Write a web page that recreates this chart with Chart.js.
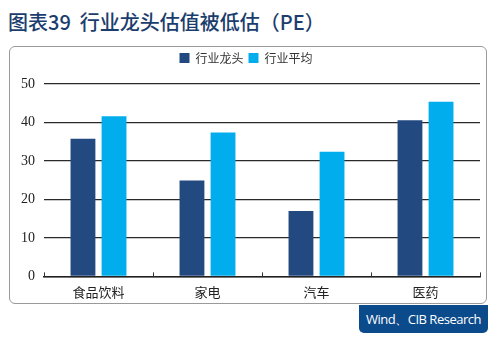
<!DOCTYPE html>
<html>
<head>
<meta charset="utf-8">
<script src="https://cdn.jsdelivr.net/npm/chart.js@4/dist/chart.umd.min.js"></script>
<style>
  html, body { margin: 0; padding: 0; background: #fff; }
  body { width: 499px; height: 341px; position: relative; overflow: hidden; }
  .title {
    position: absolute; left: 8px; top: 7px;
    font-family: 'Noto Sans CJK SC', sans-serif; font-size: 20px; font-weight: 500;
    color: #1b3d6d; white-space: nowrap;
  }
  .box {
    position: absolute; left: 9px; top: 46px; width: 478px; height: 258px;
    border: 1px solid #9a9a9a; border-radius: 6px; box-sizing: border-box;
  }
  .box canvas { position: absolute; left: 0; top: 0; }
  .source {
    position: absolute; left: 359px; top: 305px; width: 129px; height: 28px;
    background: #0b4a8b; color: #fff; border-radius: 0 0 5px 5px;
    font-family: 'Open Sans', sans-serif; font-size: 13px; line-height: 28px;
    text-align: center; letter-spacing: -0.5px;
  }
</style>
</head>
<body>
<div class="title">图表39&nbsp; 行业龙头估值被低估（PE）</div>
<div class="box"><canvas id="peChart" width="476" height="256"></canvas></div>
<div class="source">Wind、CIB Research</div>

<script>
'use strict';

// sectors and PE values
const categories = ['食品饮料', '家电', '汽车', '医药'];
const leaderPE = [35.8, 24.9, 17.0, 40.6];
const industryPE = [41.6, 37.4, 32.4, 45.4];
const seriesNames = ['行业龙头', '行业平均'];
const yTicks = [0, 10, 20, 30, 40, 50];

// extra room under the legend
const legendGap = {
  id: 'legendGap',
  beforeInit(chart) {
    const fit = chart.legend.fit;
    chart.legend.fit = function () {
      fit.bind(chart.legend)();
      this.height += 10;
    };
  }
};

// small upward ticks on the x axis between categories
const boundaryTicks = {
  id: 'boundaryTicks',
  afterDraw(chart) {
    const x = chart.scales.x;
    const y0 = chart.scales.y.getPixelForValue(0);
    const step = x.getPixelForValue(1) - x.getPixelForValue(0);
    const c = chart.ctx;
    c.save();
    c.strokeStyle = '#333';
    c.lineWidth = 1;
    for (let i = 0; i <= categories.length; i++) {
      const px = Math.round(x.getPixelForValue(0) - step / 2 + i * step) + 0.5;
      c.beginPath();
      c.moveTo(px, y0);
      c.lineTo(px, y0 - 4);
      c.stroke();
    }
    c.restore();
  }
};

const ctx = document.getElementById('peChart').getContext('2d');
new Chart(ctx, {
  type: 'bar',
  data: {
    labels: categories,
    datasets: [{
      label: seriesNames[0],
      data: leaderPE,
      backgroundColor: '#224a80',
      barPercentage: 0.8,
      categoryPercentage: 0.57
    }, {
      label: seriesNames[1],
      data: industryPE,
      backgroundColor: '#02adee',
      barPercentage: 0.8,
      categoryPercentage: 0.57
    }]
  },
  plugins: [legendGap, boundaryTicks],
  options: {
    responsive: false,
    animation: false,
    layout: { padding: { left: 2, right: 6, top: 0, bottom: -5 } },
    plugins: {
      legend: {
        position: 'top',
        labels: {
          boxWidth: 10,
          boxHeight: 10,
          padding: 5,
          color: '#333',
          font: { size: 12, family: 'Noto Sans CJK SC' }
        }
      },
      tooltip: { enabled: false }
    },
    scales: {
      x: {
        grid: { display: false, drawTicks: false },
        border: { display: true, color: '#222', width: 1.5 },
        ticks: {
          color: '#222',
          padding: 8,
          font: { size: 13, family: 'Noto Sans CJK SC' }
        }
      },
      y: {
        min: 0,
        max: 50,
        afterBuildTicks(axis) {
          axis.ticks = yTicks.map(v => ({ value: v }));
        },
        grid: { color: '#2a2a2a', lineWidth: 1.2, drawTicks: false },
        border: { display: false },
        ticks: {
          color: '#222',
          padding: 9,
          font: { size: 14, family: 'Liberation Serif' }
        }
      }
    }
  }
});
</script>
</body>
</html>
